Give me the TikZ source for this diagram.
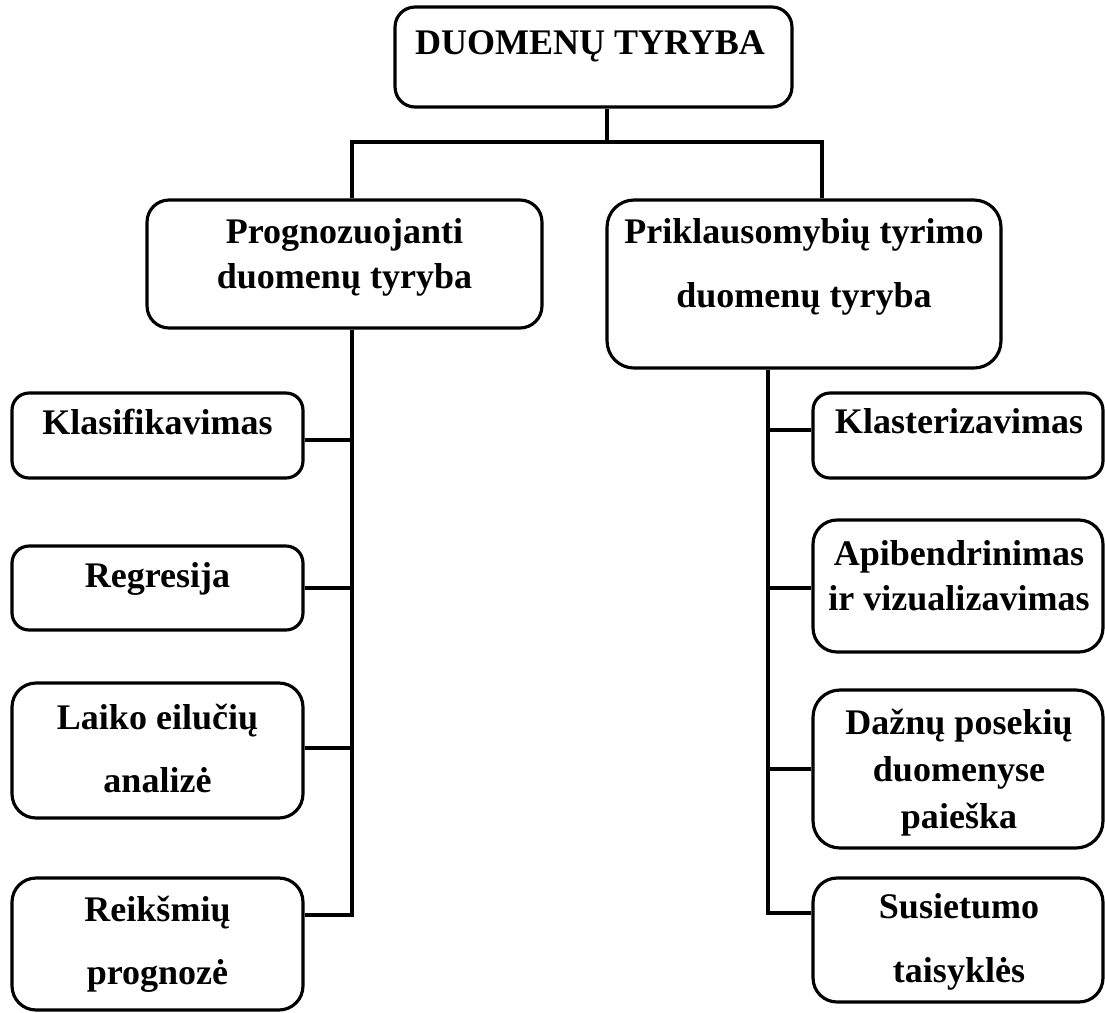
\documentclass[tikz,border=0pt]{standalone}
\usepackage{fontspec}
\setmainfont{Liberation Serif}

\begin{document}
\begin{tikzpicture}[
        x=0.02cm, y=-0.02cm,
        box/.style={draw, line width=1.8pt, rounded corners=#1, inner sep=0pt},
        box/.default=0.34cm,
        lbl/.style={font=\bfseries\fontsize{20.5}{25.6}\selectfont,
                    align=center, inner sep=0pt, anchor=north},
        looselbl/.style={lbl, font=\bfseries\fontsize{20.5}{36}\selectfont},
        conn/.style={line width=1.8pt},
    ]

    \useasboundingbox (0,0) rectangle (1105,1012);

    % ---------- root --------------------------------------------------------
    \node[box=0.4cm, minimum width=7.94cm, minimum height=2.0cm] (tyryba) at (593.5,57) {};
    \node[lbl] (tyryba-t) at (590,30) {DUOMENŲ TYRYBA};

    % ---------- two branches ------------------------------------------------
    \node[box=0.44cm, minimum width=7.9cm, minimum height=2.56cm] (prog) at (344.5,264) {};
    \node[lbl] (prog-t) at (344.5,218.5) {Prognozuojanti\\duomenų tyryba};

    \node[box=0.54cm, minimum width=7.88cm, minimum height=3.36cm] (prikl) at (804,284) {};
    \node[looselbl] (prikl-t) at (804,218.5) {Priklausomybių tyrimo\\duomenų tyryba};

    % ---------- predictive tasks -------------------------------------------
    \node[box, minimum width=5.82cm, minimum height=1.7cm] (klas) at (157.5,435.5) {};
    \node[lbl] (klas-t) at (157.5,408.5) {Klasifikavimas};

    \node[box, minimum width=5.82cm, minimum height=1.68cm] (regr) at (157.5,588) {};
    \node[lbl] (regr-t) at (157.5,562.5) {Regresija};

    \node[box=0.48cm, minimum width=5.82cm, minimum height=2.7cm] (laiko) at (157.5,750.5) {};
    \node[looselbl] (laiko-t) at (157.5,703.5) {Laiko eilučių\\analizė};

    \node[box=0.48cm, minimum width=5.82cm, minimum height=2.64cm] (reik) at (157.5,944) {};
    \node[looselbl] (reik-t) at (157.5,895.5) {Reikšmių\\prognozė};

    % ---------- descriptive tasks ------------------------------------------
    \node[box, minimum width=5.8cm, minimum height=1.7cm] (klast) at (958,435.5) {};
    \node[lbl] (klast-t) at (959,408.5) {Klasterizavimas};

    \node[box=0.48cm, minimum width=5.8cm, minimum height=2.64cm] (apib) at (958,586) {};
    \node[lbl] (apib-t) at (959,540.5) {Apibendrinimas\\ir vizualizavimas};

    \node[box=0.54cm, minimum width=5.8cm, minimum height=3.16cm] (dazn) at (958,769) {};
    \node[lbl, font=\bfseries\fontsize{20.5}{26.8}\selectfont] (dazn-t) at (959,708.5) {Dažnų posekių\\duomenyse\\paieška};

    \node[box=0.48cm, minimum width=5.8cm, minimum height=2.48cm] (susi) at (958,940) {};
    \node[looselbl] (susi-t) at (959,893.5) {Susietumo\\taisyklės};

    % ---------- connectors --------------------------------------------------
    \coordinate (split) at (607,142);
    \coordinate (lbus)  at (352,142);
    \coordinate (rbus)  at (822,142);
    \coordinate (lend)  at (352,915);
    \coordinate (rend)  at (768,913);

    \draw[conn] (tyryba.south -| split) -- (split);
    \draw[conn] (prog.north -| lbus) -- (lbus) -- (rbus) -- (prikl.north -| rbus);

    \draw[conn] (prog.south -| lend) -- (lend) -- (lend -| reik.east);
    \draw[conn] ([yshift=-0.09cm]klas.east) coordinate (klas-j) -- (klas-j -| lend);
    \draw[conn] (regr.east) -- (regr.east -| lend);
    \draw[conn] ([yshift=0.05cm]laiko.east) coordinate (laiko-j) -- (laiko-j -| lend);

    \draw[conn] (prikl.south -| rend) -- (rend) -- (rend -| susi.west);
    \draw[conn] ([yshift=0.11cm]klast.west) coordinate (klast-j) -- (klast-j -| rend);
    \draw[conn] ([yshift=-0.04cm]apib.west) coordinate (apib-j) -- (apib-j -| rend);
    \draw[conn] (dazn.west) -- (dazn.west -| rend);

\end{tikzpicture}
\end{document}
